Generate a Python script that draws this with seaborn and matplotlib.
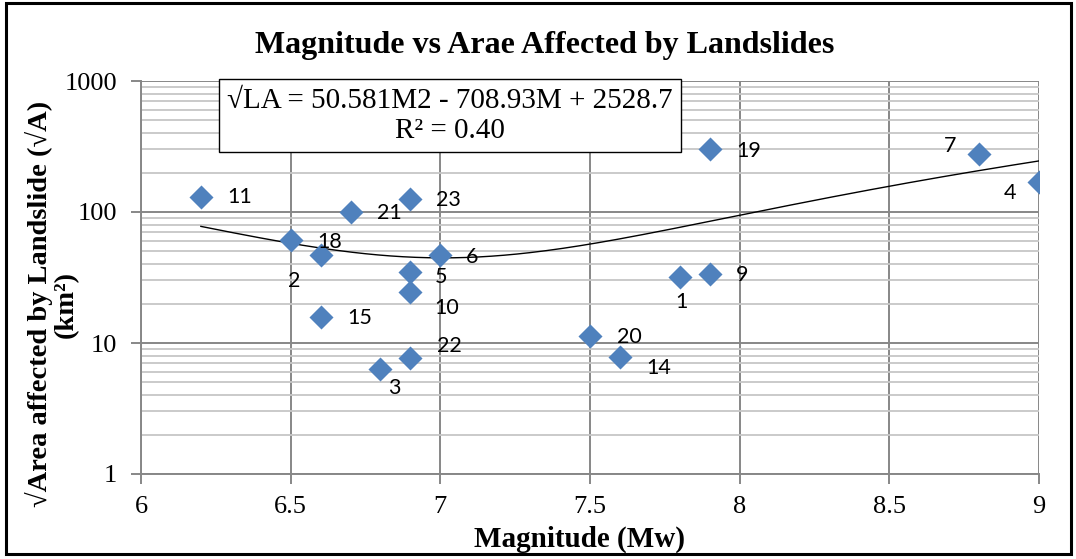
import numpy as np
import pandas as pd
import matplotlib
matplotlib.use("Agg")
import matplotlib.pyplot as plt
import seaborn as sns
from matplotlib.patches import Rectangle
from matplotlib.ticker import LogLocator, FixedLocator, NullFormatter

# ---- data ----
labels = ["11", "18", "2", "21", "23", "6", "5", "10", "15", "22", "3",
          "20", "14", "1", "9", "19", "7", "4"]
magnitude = [6.2, 6.5, 6.6, 6.7, 6.9, 7.0, 6.9, 6.9, 6.6, 6.9, 6.8,
             7.5, 7.6, 7.8, 7.9, 7.9, 8.8, 9.0]
sqrt_area = [130, 61, 47, 100, 126, 47, 34.8, 24.5, 15.8, 7.7, 6.3,
             11.3, 7.8, 31.9, 33.6, 303, 277, 169]
# label offsets (pixels, screen coords: +x right, +y down)
label_dx = [39, 39, -26, 39, 38, 32, 31, 36, 39, 39, 14, 39, 39, 2, 32, 39, -29, -29]
label_dy = [0, 2, 26, 1, 1, 2, 5, 16, 1, -12, 19, 1, 11, 25, 1, 2, -8, 11]
trend_coef = [50.581, -708.93, 2528.7]
trend_range = [6.2, 9.0]
x_ticks = [6, 6.5, 7, 7.5, 8, 8.5, 9]
x_tick_labels = ["6", "6.5", "7", "7.5", "8", "8.5", "9"]
y_ticks = [1, 10, 100, 1000]
y_tick_labels = ["1", "10", "100", "1000"]

df = pd.DataFrame({"M": magnitude, "A": sqrt_area, "lab": labels})
tx = np.linspace(trend_range[0], trend_range[1], 200)
ty = np.polyval(trend_coef, tx)
tdf = pd.DataFrame({"M": tx, "A": ty})

serif = "Liberation Serif"
W, H = 1076, 559
fig = plt.figure(figsize=(W / 100, H / 100), dpi=100)
ax = fig.add_axes([141 / W, 1 - 474 / H, (1039 - 141) / W, (474 - 81) / H])

# outer chart border
fig.patches.append(Rectangle((6 / W, 1 - 554 / H), (1071 - 6) / W, (554 - 3) / H,
                             transform=fig.transFigure, fill=False, ec="black", lw=2.2))

ax.set_yscale("log")
ax.set_xlim(6, 9)
ax.set_ylim(1, 1000)

# grid
ax.yaxis.set_minor_locator(LogLocator(base=10, subs=np.arange(2, 10)))
ax.yaxis.set_minor_formatter(NullFormatter())
ax.grid(which="minor", axis="y", color="#C6C6C6", lw=1.3, zorder=0)
ax.grid(which="major", axis="both", color="#878787", lw=1.4, zorder=0)
ax.set_axisbelow(True)

sns.lineplot(data=tdf, x="M", y="A", ax=ax, color="black", lw=1.0, zorder=2)
sns.scatterplot(data=df, x="M", y="A", ax=ax, marker="D", s=150, color="#4F81BD",
                edgecolor="#4F81BD", linewidth=0, zorder=3)

for lab, x, y, dx, dy in zip(labels, magnitude, sqrt_area, label_dx, label_dy):
    ax.annotate(lab, (x, y), xytext=(dx * 0.72, -dy * 0.72), textcoords="offset points",
                ha="center", va="center", fontsize=15.5, family="Lato", zorder=4)

ax.xaxis.set_major_locator(FixedLocator(x_ticks))
ax.set_xticklabels(x_tick_labels)
ax.yaxis.set_major_locator(FixedLocator(y_ticks))
ax.set_yticklabels(y_tick_labels)
for t in ax.get_xticklabels() + ax.get_yticklabels():
    t.set_fontfamily(serif)
    t.set_fontsize(19)
ax.tick_params(axis="both", which="major", direction="out", length=7, width=1.4,
               color="#878787")
ax.tick_params(axis="y", which="major", pad=10)
ax.tick_params(axis="x", which="major", pad=9)
ax.tick_params(axis="y", which="minor", length=0)
for s in ["top", "right"]:
    ax.spines[s].set_visible(False)
for s in ["left", "bottom"]:
    ax.spines[s].set_color("#878787")
    ax.spines[s].set_linewidth(1.4)

ax.set_xlabel("")
ax.set_ylabel("")

fig.text(545 / W, 1 - 46 / H, "Magnitude vs Arae Affected by Landslides", ha="center",
         va="center", family=serif, fontweight="bold", fontsize=23)
fig.text(580 / W, 1 - 539 / H, "Magnitude (Mw)", ha="center", va="center",
         family=serif, fontweight="bold", fontsize=21)
fig.text(52 / W, 1 - 304 / H, "\u221aArea affected by Landslide (\u221aA)\n(km\u00b2)",
         ha="center", va="center", multialignment="center", rotation=90,
         family=serif, fontweight="bold", fontsize=20.5, linespacing=1.0)

fig.text(450 / W, 1 - 115.5 / H, "\u221aLA = 50.581M2 - 708.93M + 2528.7\nR\u00b2 = 0.40",
         ha="center", va="center", family=serif, fontsize=21, linespacing=1.2,
         bbox=dict(boxstyle="square,pad=0.28", fc="white", ec="black", lw=1.0), zorder=5)

fig.savefig("out.png", dpi=100)
